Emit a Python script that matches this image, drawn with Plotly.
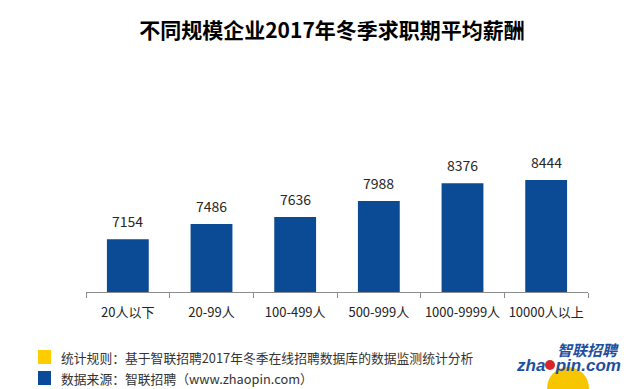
import plotly.graph_objects as go

categories = ["20人以下", "20-99人", "100-499人", "500-999人", "1000-9999人", "10000人以上"]
salaries = [7154, 7486, 7636, 7988, 8376, 8444]
title_text = "不同规模企业2017年冬季求职期平均薪酬"
note_lines = ["统计规则：基于智联招聘2017年冬季在线招聘数据库的数据监测统计分析",
              "数据来源：智联招聘（www.zhaopin.com）"]
note_colors = ["#FFCC00", "#0B4A9A"]

OFF = 8  # page body margin
W, H = 636 - OFF, 389 - OFF
L, R, T, B = 86 - OFF, 48, 150 - OFF, 97
PW, PH = W - L - R, H - T - B

def px(x):
    return (x - OFF - L) / PW

def py(y):
    return (H - B - (y - OFF)) / PH

CJK = "Noto Sans CJK SC"
BAR = "#0B4A94"

fig = go.Figure()
fig.add_trace(go.Bar(x=categories, y=salaries, marker=dict(color=BAR, line=dict(width=0)),
                     width=0.5, hoverinfo="skip"))

for c, v in zip(categories, salaries):
    fig.add_annotation(x=c, y=v, text=str(v), showarrow=False, yanchor="bottom", yshift=6,
                       font=dict(family=CJK, size=14, color="#262626"))

shapes = []
anns = []
# footer legend
for i, (txt, col) in enumerate(zip(note_lines, note_colors)):
    yc = 357 + i * 21
    shapes.append(dict(type="rect", xref="paper", yref="paper",
                       x0=px(38), x1=px(51), y0=py(yc - 7), y1=py(yc + 7),
                       fillcolor=col, line=dict(width=0)))
    anns.append(dict(xref="paper", yref="paper", x=px(59), y=py(yc), xanchor="left",
                     yanchor="middle", text=txt, showarrow=False,
                     font=dict(family=CJK, size=12.8, color="#333333")))

# logo
shapes.append(dict(type="circle", xref="paper", yref="paper",
                   x0=px(547), x1=px(589), y0=py(410), y1=py(367),
                   fillcolor="#F7C600", line=dict(width=0), layer="above"))
anns.append(dict(xref="paper", yref="paper", x=px(514), y=py(365), xanchor="left",
                 yanchor="middle", text="<b>zha<span style='color:rgba(0,0,0,0)'>o</span>pin.com</b>",
                 showarrow=False,
                 font=dict(family="Liberation Sans", size=17, color="#1D4FA0", style="italic")))
shapes.append(dict(type="circle", xref="paper", yref="paper",
                   x0=px(545), x1=px(555), y0=py(370), y1=py(360),
                   fillcolor="#D8262B", line=dict(width=0), layer="above"))
anns.append(dict(xref="paper", yref="paper", x=px(621), y=py(349), xanchor="right",
                 yanchor="middle", text="<b>智联招聘</b>", showarrow=False,
                 font=dict(family=CJK, size=15, color="#1D4FA0", style="italic")))

fig.update_layout(
    width=W, height=H,
    margin=dict(l=L, r=R, t=T, b=B, pad=0, autoexpand=False),
    paper_bgcolor="white", plot_bgcolor="white",
    showlegend=False,
    title=dict(text="<b>" + title_text + "</b>", x=(332 - OFF) / W, xanchor="center",
               y=1 - (31 - OFF) / H, yanchor="middle",
               font=dict(family=CJK, size=21, color="#000000")),
    xaxis=dict(type="category", showline=True, linecolor="#8C8C8C", linewidth=1,
               ticks="outside", tickson="boundaries", ticklen=5, tickcolor="#8C8C8C",
               showgrid=False, tickangle=0, automargin=False, ticklabelstandoff=8,
               tickfont=dict(family=CJK, size=13, color="#222222"),
               fixedrange=True),
    yaxis=dict(range=[6000, 9100], visible=False, showgrid=False, fixedrange=True,
               automargin=False),
    shapes=shapes,
    annotations=list(fig.layout.annotations) + anns,
    bargap=0.5,
)

fig.write_html("out.html")
